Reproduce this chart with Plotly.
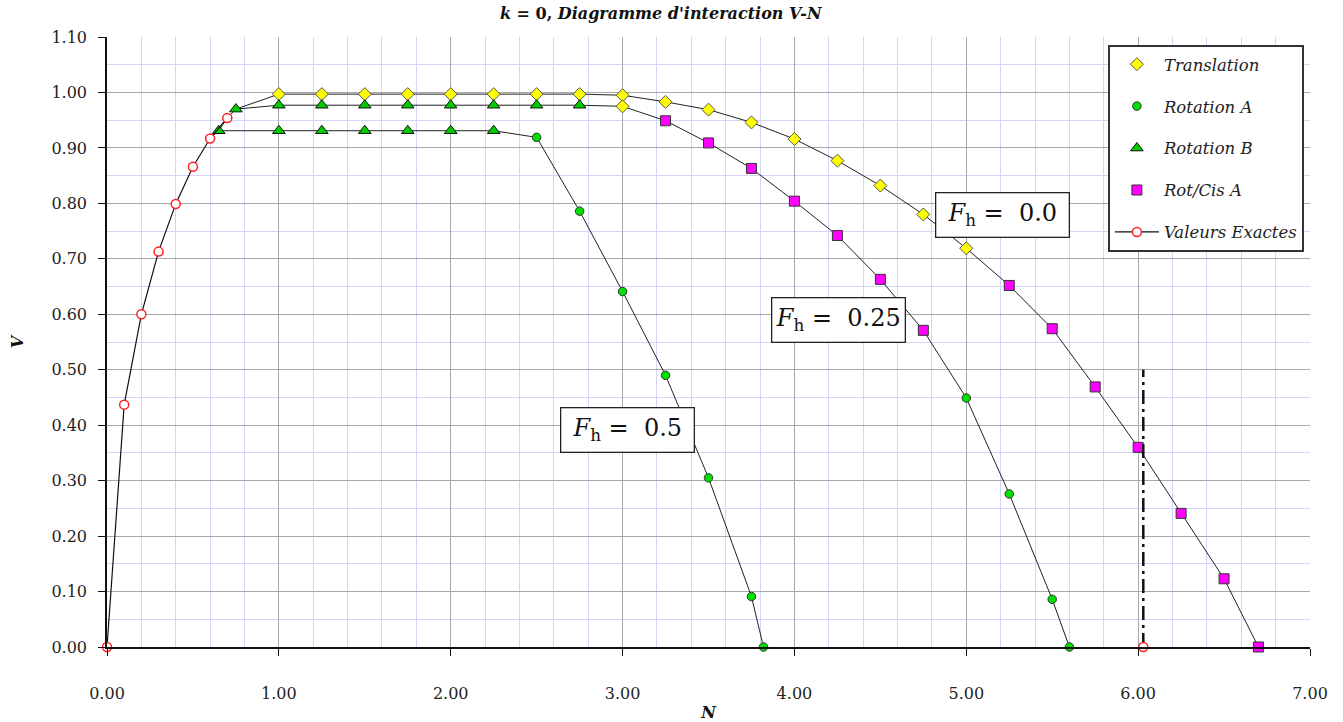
import plotly.graph_objects as go

# ---------------- data ----------------
# Curve F_h = 0.0  (types: T=Translation, A=Rotation A, B=Rotation B, R=Rot/Cis A, ''=no marker)
fh00_N = [0.75, 1.0, 1.25, 1.5, 1.75, 2.0, 2.25, 2.5, 2.75, 3.0, 3.25, 3.5, 3.75, 4.0, 4.25, 4.5, 4.75, 5.0,
          5.25, 5.5, 5.75, 6.0, 6.25, 6.5, 6.7]
fh00_V = [0.970, 0.997, 0.997, 0.997, 0.997, 0.997, 0.997, 0.997, 0.997, 0.995, 0.983, 0.969, 0.946, 0.916,
          0.877, 0.832, 0.780, 0.719, 0.652, 0.574, 0.469, 0.360, 0.241, 0.123, 0.0]
fh00_type = ['', 'T', 'T', 'T', 'T', 'T', 'T', 'T', 'T', 'T', 'T', 'T', 'T', 'T', 'T', 'T', 'T', 'T',
             'R', 'R', 'R', 'R', 'R', 'R', 'R']

# Curve F_h = 0.25
fh25_N = [0.75, 1.0, 1.25, 1.5, 1.75, 2.0, 2.25, 2.5, 2.75, 3.0, 3.25, 3.5, 3.75, 4.0, 4.25, 4.5, 4.75,
          5.0, 5.25, 5.5, 5.6]
fh25_V = [0.970, 0.977, 0.977, 0.977, 0.977, 0.977, 0.977, 0.977, 0.977, 0.975, 0.949, 0.909, 0.863, 0.804,
          0.742, 0.663, 0.571, 0.449, 0.276, 0.086, 0.0]
fh25_type = ['B', 'B', 'B', 'B', 'B', 'B', 'B', 'B', 'B', 'T', 'R', 'R', 'R', 'R', 'R', 'R', 'R',
             'A', 'A', 'A', 'A']

# Curve F_h = 0.5
fh50_N = [0.65, 1.0, 1.25, 1.5, 1.75, 2.0, 2.25, 2.5, 2.75, 3.0, 3.25, 3.5, 3.75, 3.82]
fh50_V = [0.931, 0.931, 0.931, 0.931, 0.931, 0.931, 0.931, 0.919, 0.786, 0.641, 0.490, 0.305, 0.091, 0.0]
fh50_type = ['B', 'B', 'B', 'B', 'B', 'B', 'B', 'A', 'A', 'A', 'A', 'A', 'A', 'A']

# Exact values
exact_N = [0.0, 0.1, 0.2, 0.3, 0.4, 0.5, 0.6, 0.7]
exact_V = [0.0, 0.437, 0.600, 0.713, 0.799, 0.866, 0.917, 0.954]
exact_end_N = [6.03]
exact_end_V = [0.0]

# Vertical marker line
vline_N = [6.03, 6.03]
vline_V = [0.0, 0.5]

# Labels
curve_labels = ["0.0", "0.25", "0.5"]
label_N = [5.21, 4.256, 3.03]
label_V = [0.779, 0.590, 0.392]

x_ticks = [0, 1, 2, 3, 4, 5, 6, 7]
y_ticks = [round(0.1 * i, 2) for i in range(12)]

series_names = {'T': 'Translation', 'A': 'Rotation A', 'B': 'Rotation B', 'R': 'Rot/Cis A'}
series_style = {
    'T': dict(symbol='diamond', size=10, color='#ffff00', line=dict(color='#555555', width=1)),
    'A': dict(symbol='circle', size=8.5, color='#00e000', line=dict(color='#333333', width=1)),
    'B': dict(symbol='triangle-up', size=11, color='#00cc00', line=dict(color='#111111', width=1)),
    'R': dict(symbol='square', size=10, color='#ff00ff', line=dict(color='#333333', width=1)),
}

SERIF = "DejaVu Serif"

fig = go.Figure()

curves = [(fh00_N, fh00_V, fh00_type), (fh25_N, fh25_V, fh25_type), (fh50_N, fh50_V, fh50_type)]

# curve lines
for N, V, _ in curves:
    fig.add_trace(go.Scatter(x=N, y=V, mode='lines', line=dict(color='#222222', width=1),
                             showlegend=False, hoverinfo='skip', cliponaxis=False))

# link exact curve -> start of curves
link_N = exact_N[-2:-1] + [fh50_N[0]] + exact_N[-1:] + [fh25_N[0]]
link_V = exact_V[-2:-1] + [fh50_V[0]] + exact_V[-1:] + [fh25_V[0]]
fig.add_trace(go.Scatter(x=link_N, y=link_V, mode='lines', line=dict(color='#222222', width=1),
                         showlegend=False, hoverinfo='skip', cliponaxis=False))

# markers per series
for key in ['T', 'A', 'B', 'R']:
    xs, ys = [], []
    for N, V, tp in curves:
        for n, v, t in zip(N, V, tp):
            if t == key:
                xs.append(n)
                ys.append(v)
    st = series_style[key]
    fig.add_trace(go.Scatter(x=xs, y=ys, mode='markers', name=series_names[key],
                             legendgroup=key,
                             marker=dict(symbol=st['symbol'], size=st['size'], color=st['color'], line=st['line']),
                             cliponaxis=False))

# exact values
fig.add_trace(go.Scatter(x=exact_N, y=exact_V, mode='lines+markers',
                         name='Valeurs Exactes', legendgroup='E',
                         line=dict(color='#111111', width=1.2),
                         marker=dict(symbol='circle', size=9, color='white', line=dict(color='#ff2020', width=1.5)),
                         cliponaxis=False))

# dash-dot vertical line
fig.add_trace(go.Scatter(x=vline_N, y=vline_V, mode='lines', line=dict(color='#111111', width=2.5,
                                                                      dash='14px,5px,3px,5px'),
                         showlegend=False, hoverinfo='skip'))
fig.add_trace(go.Scatter(x=exact_end_N, y=exact_end_V, mode='markers', showlegend=False, legendgroup='E',
                         marker=dict(symbol='circle', size=9, color='white', line=dict(color='#ff2020', width=1.5)),
                         cliponaxis=False))

for lab, n, v in zip(curve_labels, label_N, label_V):
    fig.add_annotation(x=n, y=v, xref='x', yref='y', showarrow=False,
                       text='<i>F</i><sub>h</sub> =  ' + lab,
                       font=dict(family=SERIF, size=24, color='#111111'),
                       bgcolor='white', bordercolor='#222222', borderwidth=1.3,
                       width=130, height=41, xanchor='center', yanchor='middle')

fig.update_layout(
    width=1343, height=722,
    margin=dict(l=107, r=33, t=37, b=75, autoexpand=False),
    paper_bgcolor='white', plot_bgcolor='white',
    font=dict(family=SERIF, size=15, color='#222222'),
    title=dict(text="<b><i>k</i> = 0, <i>Diagramme d'interaction V-N</i></b>",
               x=0.492, xanchor='center', y=0.981, yanchor='middle',
               font=dict(family=SERIF, size=16, color='#111111')),
    showlegend=True,
    legend=dict(x=0.832, y=0.987, xanchor='left', yanchor='top',
                bgcolor='white', bordercolor='#333333', borderwidth=2,
                font=dict(family=SERIF, size=16.5, color='#222222', style='italic'),
                tracegroupgap=17.5, itemwidth=44),
)

fig.update_xaxes(range=[0, 7], tickvals=x_ticks, ticktext=['%.2f' % t for t in x_ticks],
                 showgrid=True, gridcolor='#a8a8a8', gridwidth=1,
                 minor=dict(dtick=0.2, showgrid=True, gridcolor='#d4d4fa', gridwidth=1, ticks=''),
                 showline=True, linecolor='#111111', linewidth=1.5,
                 ticks='outside', ticklen=7, tickcolor='#111111', ticklabelstandoff=24,
                 tickfont=dict(family=SERIF, size=16, color='#222222'),
                 zeroline=False, mirror=False, automargin=False,
                 title=dict(text='<b><i>N</i></b>', standoff=6, font=dict(family=SERIF, size=16, color='#111111')))
fig.update_yaxes(range=[0, 1.1], tickvals=y_ticks, ticktext=['%.2f' % t for t in y_ticks],
                 showgrid=True, gridcolor='#a8a8a8', gridwidth=1,
                 minor=dict(dtick=0.05, showgrid=True, gridcolor='#d4d4fa', gridwidth=1, ticks=''),
                 showline=True, linecolor='#111111', linewidth=1.5,
                 ticks='outside', ticklen=7, tickcolor='#111111', ticklabelstandoff=8,
                 tickfont=dict(family=SERIF, size=16, color='#222222'),
                 zeroline=False, automargin=False,
                 title=dict(text='<b><i>V</i></b>', standoff=24, font=dict(family=SERIF, size=16, color='#111111')))

fig.write_html("out.html", config={'displayModeBar': False},
               post_script="document.body.style.margin='0px';")
